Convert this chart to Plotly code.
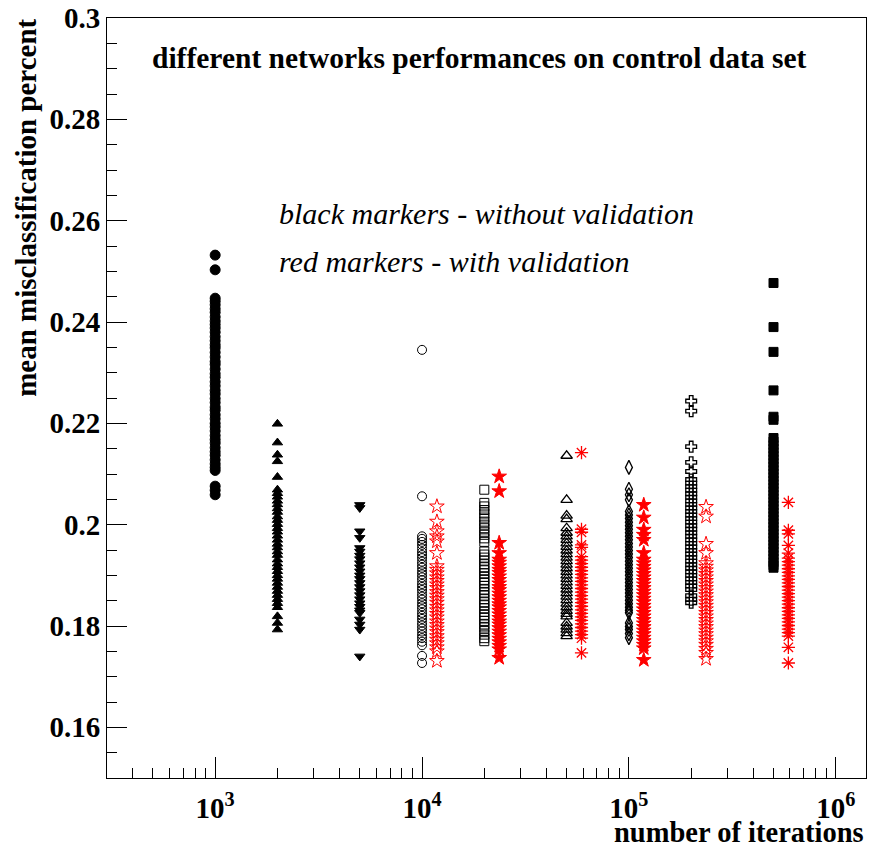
import plotly.graph_objects as go

# ---------------- data ----------------
iterations = [1000, 2000, 5000, 10000, 20000, 50000, 100000, 200000, 500000]

# black markers: without validation
no_val_1k = [0.2532, 0.2503, 0.2447, 0.2441, 0.2434, 0.2426, 0.2419, 0.2410, 0.2402, 0.2395, 0.2388,
             0.2380, 0.2371, 0.2363, 0.2355, 0.2349, 0.2340, 0.2331, 0.2322, 0.2316, 0.2307, 0.2298,
             0.2291, 0.2282, 0.2274, 0.2265, 0.2258, 0.2249, 0.2241, 0.2232, 0.2226, 0.2217, 0.2209,
             0.2200, 0.2193, 0.2185, 0.2176, 0.2168, 0.2161, 0.2152, 0.2144, 0.2137, 0.2128, 0.2120,
             0.2113, 0.2107, 0.2076, 0.2068, 0.2059]
no_val_2k = [0.2199, 0.2162, 0.2138, 0.2125, 0.2094, 0.2069, 0.2062, 0.2055, 0.2047, 0.2040, 0.2032,
             0.2025, 0.2016, 0.2009, 0.2001, 0.1993, 0.1986, 0.1978, 0.1970, 0.1962, 0.1955, 0.1947,
             0.1940, 0.1931, 0.1923, 0.1916, 0.1908, 0.1900, 0.1893, 0.1885, 0.1877, 0.1869, 0.1861,
             0.1853, 0.1845, 0.1837, 0.1819, 0.1806, 0.1793]
no_val_5k = [0.2039, 0.2033, 0.1987, 0.1974, 0.1954, 0.1947, 0.1939, 0.1932, 0.1924, 0.1916, 0.1908,
             0.1900, 0.1893, 0.1885, 0.1877, 0.1869, 0.1861, 0.1853, 0.1845, 0.1838, 0.1831, 0.1826,
             0.1813, 0.1803, 0.1793, 0.1740]
no_val_10k = [0.2345, 0.2056, 0.1977, 0.1972, 0.1966, 0.1960, 0.1953, 0.1946, 0.1940, 0.1934, 0.1927,
              0.1921, 0.1915, 0.1908, 0.1902, 0.1896, 0.1890, 0.1883, 0.1877, 0.1871, 0.1864, 0.1858,
              0.1852, 0.1845, 0.1839, 0.1833, 0.1826, 0.1820, 0.1814, 0.1807, 0.1801, 0.1795, 0.1789,
              0.1782, 0.1776, 0.1769, 0.1762, 0.1741, 0.1727]
no_val_20k = [0.2069, 0.2043, 0.2036, 0.2029, 0.2022, 0.2014, 0.2006, 0.2000, 0.1993, 0.1986, 0.1980,
              0.1973, 0.1966, 0.1947, 0.1941, 0.1935, 0.1929, 0.1922, 0.1916, 0.1910, 0.1904, 0.1897,
              0.1891, 0.1885, 0.1879, 0.1872, 0.1866, 0.1860, 0.1853, 0.1847, 0.1841, 0.1835, 0.1828,
              0.1822, 0.1816, 0.1810, 0.1803, 0.1797, 0.1790, 0.1783, 0.1776, 0.1770]
no_val_50k = [0.2136, 0.2049, 0.2018, 0.2011, 0.1993, 0.1984, 0.1977, 0.1970, 0.1963, 0.1956, 0.1949,
              0.1942, 0.1935, 0.1928, 0.1921, 0.1914, 0.1907, 0.1900, 0.1893, 0.1886, 0.1879, 0.1872,
              0.1865, 0.1858, 0.1851, 0.1844, 0.1837, 0.1830, 0.1824, 0.1819, 0.1806, 0.1799, 0.1793,
              0.1786, 0.1780]
no_val_100k = [0.2113, 0.2070, 0.2059, 0.2049, 0.2026, 0.2019, 0.2012, 0.2005, 0.1998, 0.1991, 0.1984,
               0.1977, 0.1970, 0.1963, 0.1956, 0.1949, 0.1942, 0.1935, 0.1928, 0.1921, 0.1914, 0.1907,
               0.1900, 0.1893, 0.1886, 0.1879, 0.1872, 0.1865, 0.1858, 0.1851, 0.1844, 0.1837, 0.1831,
               0.1826, 0.1806, 0.1799, 0.1793, 0.1785, 0.1777]
no_val_200k = [0.2244, 0.2224, 0.2154, 0.2123, 0.2105, 0.2089, 0.2082, 0.2075, 0.2068, 0.2061, 0.2054,
               0.2047, 0.2040, 0.2033, 0.2026, 0.2019, 0.2012, 0.2005, 0.1998, 0.1991, 0.1984, 0.1977,
               0.1970, 0.1963, 0.1956, 0.1949, 0.1942, 0.1935, 0.1928, 0.1921, 0.1914, 0.1907, 0.1900,
               0.1893, 0.1886, 0.1879, 0.1872, 0.1860, 0.1852, 0.1846]
no_val_500k = [0.2477, 0.2390, 0.2341, 0.2265, 0.2213, 0.2207, 0.2171, 0.2164, 0.2157, 0.2150, 0.2143,
               0.2136, 0.2129, 0.2122, 0.2115, 0.2108, 0.2101, 0.2094, 0.2087, 0.2080, 0.2073, 0.2066,
               0.2059, 0.2052, 0.2045, 0.2038, 0.2031, 0.2024, 0.2017, 0.2010, 0.2003, 0.1996, 0.1989,
               0.1982, 0.1975, 0.1968, 0.1961, 0.1954, 0.1947, 0.1940, 0.1933, 0.1926, 0.1920, 0.1915]

# red markers: with validation (10k .. 500k)
val_10k = [0.2036, 0.2006, 0.1987, 0.1977, 0.1967, 0.1944, 0.1918, 0.1911, 0.1904, 0.1896, 0.1889,
           0.1882, 0.1875, 0.1867, 0.1860, 0.1853, 0.1846, 0.1838, 0.1831, 0.1824, 0.1817, 0.1809,
           0.1802, 0.1795, 0.1788, 0.1780, 0.1773, 0.1766, 0.1758, 0.1750, 0.1731]
val_20k = [0.2095, 0.2066, 0.1964, 0.1944, 0.1931, 0.1925, 0.1918, 0.1911, 0.1905, 0.1898, 0.1891,
           0.1884, 0.1877, 0.1871, 0.1864, 0.1857, 0.1850, 0.1843, 0.1837, 0.1830, 0.1823, 0.1816,
           0.1809, 0.1803, 0.1796, 0.1789, 0.1782, 0.1775, 0.1768, 0.1761, 0.1754, 0.1737]
val_50k = [0.2142, 0.1991, 0.1985, 0.1960, 0.1955, 0.1937, 0.1930, 0.1923, 0.1916, 0.1909, 0.1902,
           0.1895, 0.1888, 0.1881, 0.1874, 0.1867, 0.1860, 0.1853, 0.1846, 0.1839, 0.1832, 0.1825,
           0.1818, 0.1811, 0.1804, 0.1797, 0.1790, 0.1783, 0.1776, 0.1747]
val_100k = [0.2039, 0.2014, 0.1990, 0.1980, 0.1970, 0.1944, 0.1931, 0.1924, 0.1917, 0.1910, 0.1903,
            0.1896, 0.1889, 0.1882, 0.1875, 0.1868, 0.1861, 0.1854, 0.1847, 0.1840, 0.1833, 0.1826,
            0.1819, 0.1812, 0.1805, 0.1798, 0.1791, 0.1784, 0.1777, 0.1770, 0.1763, 0.1756, 0.1733]
val_200k = [0.2035, 0.2016, 0.1962, 0.1944, 0.1924, 0.1917, 0.1910, 0.1903, 0.1896, 0.1889, 0.1882,
            0.1875, 0.1868, 0.1861, 0.1854, 0.1847, 0.1840, 0.1833, 0.1826, 0.1819, 0.1812, 0.1805,
            0.1798, 0.1791, 0.1784, 0.1777, 0.1770, 0.1763, 0.1755, 0.1747, 0.1735]
val_500k = [0.2044, 0.1989, 0.1982, 0.1959, 0.1944, 0.1934, 0.1927, 0.1920, 0.1913, 0.1906, 0.1899,
            0.1892, 0.1885, 0.1878, 0.1871, 0.1864, 0.1857, 0.1850, 0.1843, 0.1836, 0.1829, 0.1822,
            0.1815, 0.1808, 0.1801, 0.1794, 0.1787, 0.1780, 0.1758, 0.1727]

x_tick_vals = [1000, 10000, 100000, 1000000]
x_tick_text = ["10<sup>3</sup>", "10<sup>4</sup>", "10<sup>5</sup>", "10<sup>6</sup>"]
y_tick_vals = [0.16, 0.18, 0.20, 0.22, 0.24, 0.26, 0.28, 0.30]
y_tick_text = ["0.16", "0.18", "0.2", "0.22", "0.24", "0.26", "0.28", "0.3"]

# ---------------- styles ----------------
RED_SHIFT = 1.18  # red series drawn slightly right of their iteration count
BLACK, RED = "black", "#ff0000"
FONT = "Liberation Serif"

black_sets = [no_val_1k, no_val_2k, no_val_5k, no_val_10k, no_val_20k,
              no_val_50k, no_val_100k, no_val_200k, no_val_500k]
black_syms = ["circle", "triangle-up", "triangle-down", "circle-open", "square-open",
              "triangle-up-open", "diamond-tall-open", "cross-open", "square"]
black_sizes = [10, 9, 9, 9, 9, 10, 10, 9, 9]
black_lw = [1, 1, 1, 1, 1, 1.3, 1.3, 1.3, 1]

red_sets = [val_10k, val_20k, val_50k, val_100k, val_200k, val_500k]
red_iters = iterations[3:]
red_syms = ["star-open", "star", "asterisk-open", "star", "star-open", "asterisk-open"]
red_sizes = [11, 11, 11, 11, 11, 11]
red_lw = [1, 1, 1.3, 1, 1, 1.3]

fig = go.Figure()
for it, vals, sym, sz, lw in zip(iterations, black_sets, black_syms, black_sizes, black_lw):
    fig.add_trace(go.Scatter(
        x=[it] * len(vals), y=vals, mode="markers", showlegend=False,
        marker=dict(symbol=sym, size=sz, color=BLACK, line=dict(color=BLACK, width=lw))))
for it, vals, sym, sz, lw in zip(red_iters, red_sets, red_syms, red_sizes, red_lw):
    fig.add_trace(go.Scatter(
        x=[it * RED_SHIFT] * len(vals), y=vals, mode="markers", showlegend=False,
        marker=dict(symbol=sym, size=sz, color=RED, line=dict(color=RED, width=lw))))

fig.update_layout(
    width=872, height=851,
    margin=dict(l=107, r=6, t=18, b=73, autoexpand=False),
    paper_bgcolor="white", plot_bgcolor="white",
    xaxis=dict(
        type="log", range=[2.4771, 6.1461], automargin=False,
        tickmode="array", tickvals=x_tick_vals, ticktext=x_tick_text,
        ticks="inside", ticklen=21, tickwidth=1, tickcolor=BLACK,
        minor=dict(ticks="inside", ticklen=10, tickwidth=1, tickcolor=BLACK, dtick="D1", showgrid=False),
        showgrid=False, zeroline=False,
        showline=True, linecolor=BLACK, linewidth=1, mirror=True,
        ticklabelstandoff=4,
        tickfont=dict(family=FONT, size=29, color=BLACK, weight="bold"),
    ),
    yaxis=dict(
        range=[0.15, 0.30], automargin=False,
        tickmode="array", tickvals=y_tick_vals, ticktext=y_tick_text,
        ticks="inside", ticklen=20, tickwidth=1, tickcolor=BLACK,
        minor=dict(ticks="inside", ticklen=10, tickwidth=1, tickcolor=BLACK, dtick=0.005, tick0=0.15, showgrid=False),
        showgrid=False, zeroline=False,
        showline=True, linecolor=BLACK, linewidth=1, mirror=True,
        tickfont=dict(family=FONT, size=29, color=BLACK, weight="bold"),
    ),
    annotations=[
        dict(text="different networks performances on control data set", xref="paper", yref="paper",
             x=0.4914, y=0.947, xanchor="center", yanchor="middle", showarrow=False,
             font=dict(family=FONT, size=29.5, color=BLACK, weight="bold")),
        dict(text="<i>black markers - without validation</i>", xref="paper", yref="paper",
             x=0.224, y=0.743, xanchor="left", yanchor="middle", showarrow=False,
             font=dict(family=FONT, size=30, color=BLACK)),
        dict(text="<i>red markers - with validation</i>", xref="paper", yref="paper",
             x=0.224, y=0.679, xanchor="left", yanchor="middle", showarrow=False,
             font=dict(family=FONT, size=30, color=BLACK)),
        dict(text="number of iterations", xref="paper", yref="paper",
             x=1.0, y=-0.072, xanchor="right", yanchor="middle", showarrow=False,
             font=dict(family=FONT, size=28.5, color=BLACK, weight="bold")),
        dict(text="mean misclassification percent", xref="paper", yref="paper",
             x=-0.106, y=1.001, xanchor="center", yanchor="top", textangle=-90, showarrow=False,
             font=dict(family=FONT, size=29, color=BLACK, weight="bold")),
    ],
)

fig.write_html("out.html",
               config={"displayModeBar": False},
               post_script="document.body.style.margin='0px';document.body.style.overflow='hidden';")
